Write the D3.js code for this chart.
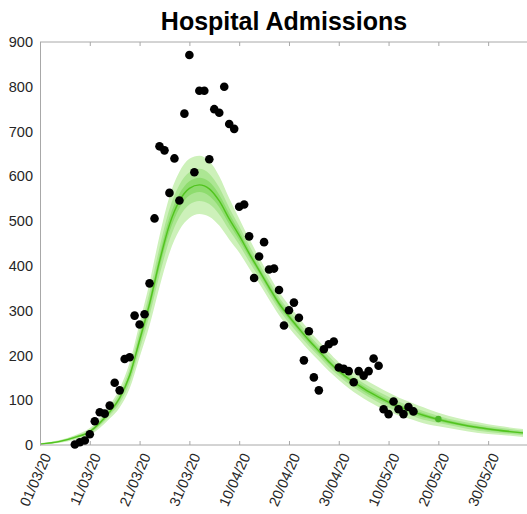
<!DOCTYPE html>
<html>
<head>
<meta charset="utf-8">
<script src="https://cdn.jsdelivr.net/npm/d3@7"></script>
<style>
  html, body { margin: 0; padding: 0; background: #fff; }
  svg { display: block; font-family: "Liberation Sans", Arial, Helvetica, sans-serif; }
</style>
</head>
<body>
<svg id="chart" width="527" height="514"></svg>
<script>
// Observed daily hospital admissions, starting 08/03/20
const obsStart = "2020-03-08";
const admissions = [1, 6, 10, 24, 53, 73, 70, 88, 139, 122, 192, 196, 289, 269, 292,
  361, 506, 667, 658, 563, 640, 546, 740, 871, 609, 791, 791, 638, 750, 742, 800, 717, 706,
  532, 537, 466, 373, 421, 453, 392, 394, 346, 267, 301, 318, 284, 189, 254, 151, 122,
  214, 225, 231, 173, 170, 165, 140, 165, 155, 165, 193, 177, 80, 69, 97, 80, 69, 85, 75];

// Single later observation (highlighted)
const extraDate = "2020-05-20";
const extraValue = 58;

// Model fit: days after 01/03/20, median and credible bands
const modelDays = [0, 4, 7, 10, 12, 14, 16, 18, 20, 22, 24, 26, 28, 30, 32, 34, 36, 38, 40, 42, 44, 46, 48, 50, 52, 54, 56, 58, 60, 62, 64, 66, 68, 70, 72, 74, 76, 78, 80, 84, 88, 92, 97];
const median   = [2, 8, 17, 30, 49, 74, 105, 155, 234, 315, 410, 492, 545, 573, 581, 572, 545, 505, 468, 428, 390, 352, 316, 287, 260, 234, 210, 186, 165, 148, 133, 119, 107, 96, 86, 78, 70, 63, 57, 47, 39, 33, 27];
const outerLo  = [0, 5, 12, 22, 38, 59, 84, 126, 196, 267, 353, 429, 480, 507, 516, 510, 490, 459, 430, 395, 361, 325, 290, 262, 236, 211, 188, 165, 145, 127, 111, 97, 85, 75, 66, 59, 52, 46, 42, 34, 27, 23, 18];
const outerHi  = [4, 11, 22, 38, 60, 89, 126, 184, 272, 363, 467, 555, 610, 639, 646, 634, 600, 551, 506, 461, 419, 379, 342, 312, 284, 257, 232, 207, 185, 169, 155, 141, 129, 117, 106, 97, 88, 80, 72, 60, 51, 43, 36];
const midLo    = [1, 6, 14, 26, 43, 66, 93, 139, 213, 289, 379, 457, 509, 537, 545, 538, 515, 480, 447, 410, 374, 337, 302, 273, 247, 221, 198, 174, 154, 136, 121, 107, 95, 84, 75, 68, 60, 54, 49, 40, 32, 27, 22];
const midHi    = [3, 10, 20, 34, 55, 82, 117, 171, 255, 341, 441, 527, 581, 609, 617, 606, 575, 530, 489, 446, 406, 367, 330, 301, 273, 247, 222, 198, 176, 160, 145, 131, 119, 108, 97, 88, 80, 72, 65, 54, 46, 39, 32];
const innerLo  = [1, 7, 16, 28, 46, 70, 100, 148, 224, 303, 396, 476, 529, 557, 565, 556, 531, 493, 458, 420, 383, 345, 309, 281, 254, 228, 204, 181, 160, 143, 127, 113, 101, 91, 81, 73, 65, 59, 53, 44, 36, 30, 25];
const innerHi  = [3, 9, 18, 32, 52, 78, 110, 162, 244, 327, 424, 508, 561, 589, 597, 588, 559, 517, 478, 436, 397, 359, 323, 293, 266, 240, 216, 191, 170, 153, 139, 125, 113, 101, 91, 83, 75, 67, 61, 50, 42, 36, 29];

// Axis ticks
const xTickDates = ["2020-03-01", "2020-03-11", "2020-03-21", "2020-03-31", "2020-04-10",
  "2020-04-20", "2020-04-30", "2020-05-10", "2020-05-20", "2020-05-30"];
const yTicks = [0, 100, 200, 300, 400, 500, 600, 700, 800, 900];
const title = "Hospital Admissions";

const parse = d3.utcParse("%Y-%m-%d");
const fmt = d3.utcFormat("%d/%m/%y");
const t0 = parse("2020-03-01");
const dayMs = 86400000;

const svg = d3.select("#chart");
const W = 527;
const x = d3.scaleUtc().domain([t0, new Date(+t0 + 97 * dayMs)]).range([40, 523]);
const y = d3.scaleLinear().domain([0, 900]).range([445, 42]);

const model = modelDays.map((d, i) => ({
  date: new Date(+t0 + d * dayMs),
  med: median[i], oLo: outerLo[i], oHi: outerHi[i],
  mLo: midLo[i], mHi: midHi[i], iLo: innerLo[i], iHi: innerHi[i]
}));

const curve = d3.curveMonotoneX;
const band = (lo, hi) => d3.area().curve(curve)
  .x(d => x(d.date)).y0(d => y(d[lo])).y1(d => y(d[hi]));

const g = svg.append("g");
g.append("path").datum(model).attr("d", band("oLo", "oHi")).attr("fill", "#cdf1ba");
g.append("path").datum(model).attr("d", band("mLo", "mHi")).attr("fill", "#ace693");
g.append("path").datum(model).attr("d", band("iLo", "iHi")).attr("fill", "#8edc6e");
g.append("path").datum(model)
  .attr("d", d3.line().curve(curve).x(d => x(d.date)).y(d => y(d.med)))
  .attr("fill", "none").attr("stroke", "#52c41f").attr("stroke-width", 1.4);

// Frame: top, left, bottom lines
const frameColor = "#a8a8a8";
svg.append("line").attr("x1", 40).attr("x2", W).attr("y1", y(900)).attr("y2", y(900))
  .attr("stroke", frameColor).attr("stroke-width", 1);

// Bottom axis with inward ticks
const xTicks = xTickDates.map(parse);
const xAxis = d3.axisBottom(x).tickValues(xTicks).tickSize(-4).tickFormat(fmt).tickSizeOuter(0);
const xg = svg.append("g").attr("transform", `translate(0,${y(0)})`).call(xAxis);
xg.select(".domain").attr("d", `M40,0H${W}`).attr("stroke", frameColor);
xg.selectAll(".tick line").attr("stroke", frameColor);
xg.selectAll(".tick text")
  .attr("font-size", 14.5).attr("fill", "#262626")
  .attr("text-anchor", "end")
  .attr("dy", null).attr("y", null)
  .attr("transform", "translate(11,11) rotate(-66)");

// Top ticks
const topAxis = d3.axisTop(x).tickValues(xTicks).tickSize(-4).tickFormat("").tickSizeOuter(0);
const tg = svg.append("g").attr("transform", `translate(0,${y(900)})`).call(topAxis);
tg.select(".domain").remove();
tg.selectAll(".tick line").attr("stroke", frameColor);

// Left axis
const yAxis = d3.axisLeft(y).tickValues(yTicks).tickSize(0).tickPadding(7).tickSizeOuter(0);
const yg = svg.append("g").attr("transform", "translate(40,0)").call(yAxis);
yg.select(".domain").attr("stroke", frameColor);
yg.selectAll(".tick text").attr("font-size", 14.5).attr("fill", "#262626");

// Observations
const obs0 = parse(obsStart);
const obs = admissions.map((v, i) => ({ date: new Date(+obs0 + i * dayMs), v }));
svg.append("g").selectAll("circle").data(obs).join("circle")
  .attr("cx", d => x(d.date)).attr("cy", d => y(d.v)).attr("r", 4.3).attr("fill", "#000");

svg.append("circle").attr("cx", x(parse(extraDate))).attr("cy", y(extraValue))
  .attr("r", 3.2).attr("fill", "#4bb52a");

// Title
svg.append("text").attr("x", 284).attr("y", 30).attr("text-anchor", "middle")
  .attr("font-size", 25).attr("font-weight", "bold").attr("fill", "#000").text(title);
</script>
</body>
</html>
